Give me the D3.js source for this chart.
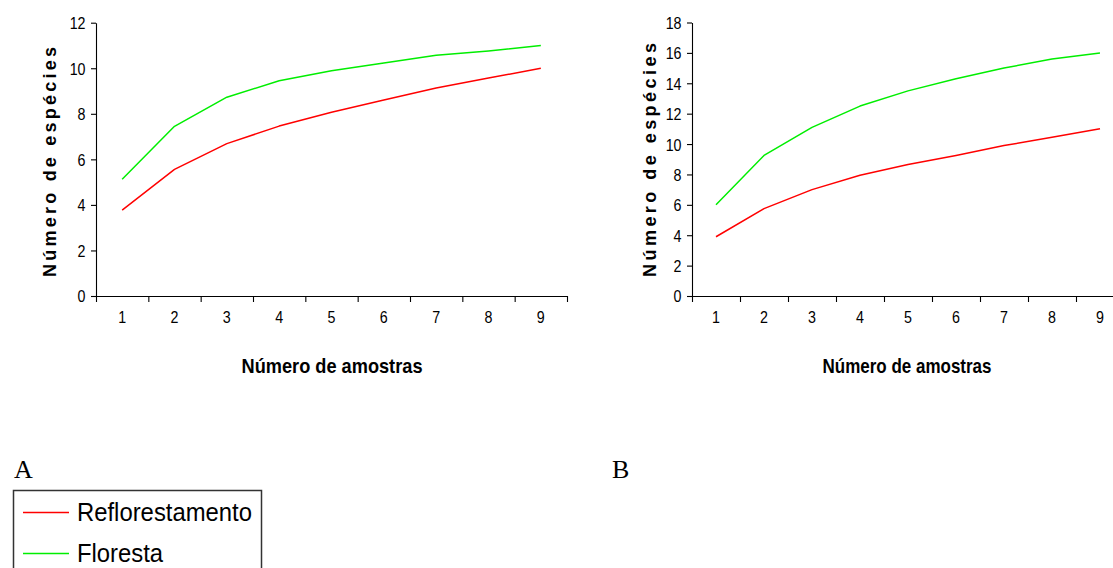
<!DOCTYPE html>
<html>
<head>
<meta charset="utf-8">
<script src="https://cdn.jsdelivr.net/npm/d3@7"></script>
<style>
  html, body { margin: 0; padding: 0; background: #fff; overflow: hidden; }
  svg { display: block; }
  .tick text { font-family: "Liberation Sans Narrow", "Arial Narrow", "Liberation Sans", Arial, sans-serif; fill: #000; }
</style>
</head>
<body>
<svg id="chart" width="1113" height="568"></svg>
<script>
// Species accumulation curves: number of species vs number of samples
const samples = [1, 2, 3, 4, 5, 6, 7, 8, 9];

// Panel A
const reflorestamentoA = [3.77, 5.56, 6.69, 7.46, 8.07, 8.61, 9.13, 9.57, 10.0];
const florestaA        = [5.13, 7.45, 8.73, 9.45, 9.89, 10.23, 10.57, 10.76, 11.0];
const yTicksA = [0, 2, 4, 6, 8, 10, 12];

// Panel B
const reflorestamentoB = [3.9, 5.75, 7.0, 7.95, 8.65, 9.25, 9.9, 10.45, 11.0];
const florestaB        = [6.0, 9.25, 11.1, 12.5, 13.5, 14.3, 15.0, 15.6, 16.0];
const yTicksB = [0, 2, 4, 6, 8, 10, 12, 14, 16, 18];

const seriesNames = ["Reflorestamento", "Floresta"];
const seriesColors = ["#ff0000", "#00ee00"];

const svg = d3.select("#chart");
const narrow = 0.84; // horizontal squeeze for the condensed tick-label face

function drawPanel(p) {
  const g = svg.append("g");

  const x = d3.scaleBand().domain(samples).range([p.left, p.right]).paddingInner(0).paddingOuter(0);
  const xEdge = d3.scaleLinear().domain([0, samples.length]).range([p.left, p.right]);
  const y = d3.scaleLinear().domain([0, d3.max(p.yTicks)]).range([p.bottom, p.top]);

  // x axis line with tick marks at category boundaries
  g.append("g")
    .attr("transform", `translate(0,${p.bottom})`)
    .call(d3.axisBottom(xEdge).tickValues(d3.range(0, samples.length + 1)).tickFormat("").tickSize(6).tickSizeOuter(0))
    .call(a => a.selectAll("path, line").attr("stroke", "#000").attr("stroke-width", 1.1));

  // category labels centred in each band
  g.append("g")
    .attr("transform", `translate(0,${p.bottom})`)
    .call(d3.axisBottom(x).tickSize(0).tickPadding(21))
    .call(a => a.select(".domain").remove())
    .call(a => a.selectAll("text")
      .attr("font-size", 17).attr("dy", "0.35em")
      .attr("transform", `scale(${narrow},1)`));

  // y axis
  g.append("g")
    .attr("transform", `translate(${p.left},0)`)
    .call(d3.axisLeft(y).tickValues(p.yTicks).tickFormat(d3.format("d")).tickSize(5).tickSizeOuter(0).tickPadding(5))
    .call(a => a.selectAll("path, line").attr("stroke", "#000").attr("stroke-width", 1.1))
    .call(a => a.selectAll("text")
      .attr("font-size", 17).attr("dy", "0.35em")
      .attr("x", -10.5 / narrow)
      .attr("transform", `scale(${narrow},1)`));

  // series lines
  const line = d3.line().x((d, i) => x(samples[i]) + x.bandwidth() / 2).y(d => y(d));
  p.series.forEach((s, i) => {
    g.append("path")
      .datum(s)
      .attr("fill", "none")
      .attr("stroke", seriesColors[i])
      .attr("stroke-width", 1.5)
      .attr("stroke-linejoin", "round")
      .attr("d", line);
  });

  // axis titles
  g.append("text")
    .attr("transform", `translate(${p.yTitleX},${p.yTitleY}) rotate(-90)`)
    .attr("text-anchor", "middle")
    .attr("font-family", "'Liberation Sans', Arial, sans-serif")
    .attr("font-weight", "bold")
    .attr("font-size", 18)
    .attr("textLength", p.yTitleLen)
    .attr("lengthAdjust", "spacing")
    .text("Número de espécies");

  g.append("text")
    .attr("x", p.xTitleX)
    .attr("y", 373)
    .attr("text-anchor", "middle")
    .attr("font-family", "'Liberation Sans Narrow', 'Arial Narrow', 'Liberation Sans', Arial, sans-serif")
    .attr("font-weight", "bold")
    .attr("font-size", 21)
    .attr("textLength", p.xTitleLen)
    .attr("lengthAdjust", "spacingAndGlyphs")
    .text("Número de amostras");

  // panel letter
  g.append("text")
    .attr("x", p.letterX)
    .attr("y", 478)
    .attr("font-family", "'Liberation Serif', 'Times New Roman', serif")
    .attr("font-size", 26)
    .text(p.letter);
}

drawPanel({
  left: 96, right: 567, top: 22.7, bottom: 296,
  yTicks: yTicksA, series: [reflorestamentoA, florestaA],
  yTitleX: 56, yTitleY: 162, yTitleLen: 230,
  xTitleX: 332, xTitleLen: 181, letter: "A", letterX: 14
});

drawPanel({
  left: 692, right: 1124, top: 22.5, bottom: 296,
  yTicks: yTicksB, series: [reflorestamentoB, florestaB],
  yTitleX: 656, yTitleY: 160, yTitleLen: 234,
  xTitleX: 907, xTitleLen: 169, letter: "B", letterX: 612
});

// legend
const legend = svg.append("g");
legend.append("rect")
  .attr("x", 13.5).attr("y", 490.5)
  .attr("width", 248).attr("height", 100)
  .attr("fill", "#fff").attr("stroke", "#333").attr("stroke-width", 1.5);

const legendRows = [512.5, 553.5];
const legendLens = [175, 86];
seriesNames.forEach((name, i) => {
  legend.append("line")
    .attr("x1", 23).attr("x2", 69)
    .attr("y1", legendRows[i]).attr("y2", legendRows[i])
    .attr("stroke", seriesColors[i]).attr("stroke-width", 1.5);
  legend.append("text")
    .attr("x", 77).attr("y", legendRows[i] + 8.5)
    .attr("font-family", "'Liberation Sans', Arial, sans-serif")
    .attr("font-size", 26)
    .attr("textLength", legendLens[i])
    .attr("lengthAdjust", "spacingAndGlyphs")
    .text(name);
});
</script>
</body>
</html>
